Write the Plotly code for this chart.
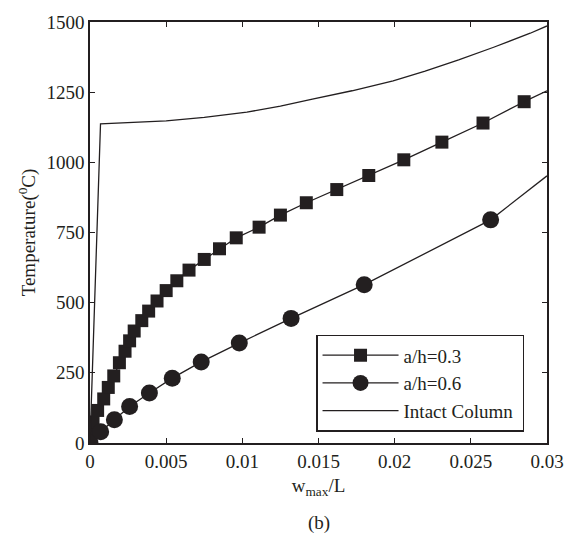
import plotly.graph_objects as go

# a/h = 0.3 (squares)
w_sq = [0, 0.00005, 0.0002, 0.0005, 0.0009, 0.0012, 0.00156, 0.00193, 0.0023, 0.0026,
        0.0029, 0.0034, 0.00385, 0.0044, 0.0050, 0.0057, 0.0065, 0.0075, 0.0085, 0.0096,
        0.0111, 0.0125, 0.0142, 0.0162, 0.0183, 0.0206, 0.0231, 0.0258, 0.0285]
T_sq = [0, 35, 75, 116, 157, 198, 239, 286, 327, 364,
        399, 436, 470, 506, 543, 578, 616, 654, 692, 731,
        769, 812, 856, 903, 953, 1009, 1072, 1140, 1216]
w_sq_tail = [0.0285, 0.030]
T_sq_tail = [1216, 1255]

# a/h = 0.6 (circles)
w_ci = [0, 0.0007, 0.0016, 0.0026, 0.0039, 0.0054, 0.0073, 0.0098, 0.0132, 0.0180, 0.0263]
T_ci = [0, 40, 83, 130, 178, 231, 289, 356, 444, 564, 795]
w_ci_tail = [0.0263, 0.030]
T_ci_tail = [795, 952]

# Intact column
w_in = [0, 0.00069, 0.005, 0.0075, 0.0103, 0.0125, 0.0146, 0.0172, 0.0199,
        0.0220, 0.0242, 0.0265, 0.0289, 0.030]
T_in = [0, 1137, 1148, 1160, 1179, 1200, 1225, 1255, 1290,
        1325, 1365, 1410, 1460, 1486]

x_ticks = [0, 0.005, 0.01, 0.015, 0.02, 0.025, 0.03]
x_labels = ["0", "0.005", "0.01", "0.015", "0.02", "0.025", "0.03"]
y_ticks = [0, 250, 500, 750, 1000, 1250, 1500]

INK = "#231f20"
FONT = "Liberation Serif, Times New Roman, serif"
PAD = "\u00a0"

fig = go.Figure()
fig.add_trace(go.Scatter(x=w_sq, y=T_sq, mode="lines+markers", name="a/h=0.3" + PAD,
                         line=dict(color=INK, width=1.3),
                         marker=dict(symbol="square", size=13, color=INK)))
fig.add_trace(go.Scatter(x=w_sq_tail, y=T_sq_tail, mode="lines", showlegend=False,
                         line=dict(color=INK, width=1.3)))
fig.add_trace(go.Scatter(x=w_ci, y=T_ci, mode="lines+markers", name="a/h=0.6" + PAD,
                         line=dict(color=INK, width=1.3),
                         marker=dict(symbol="circle", size=17, color=INK)))
fig.add_trace(go.Scatter(x=w_ci_tail, y=T_ci_tail, mode="lines", showlegend=False,
                         line=dict(color=INK, width=1.3)))
fig.add_trace(go.Scatter(x=w_in, y=T_in, mode="lines", name="Intact Column" + PAD,
                         line=dict(color=INK, width=1.3)))

axis_common = dict(showline=True, linecolor=INK, linewidth=1.5, mirror="ticks",
                   ticks="inside", ticklen=5, tickcolor=INK, tickwidth=1.2,
                   showgrid=False, zeroline=False,
                   tickfont=dict(family=FONT, size=19, color=INK))

fig.update_layout(
    width=576, height=548,
    margin=dict(l=90, r=19, t=16, b=105),
    paper_bgcolor="white", plot_bgcolor="white",
    font=dict(family=FONT, size=19, color=INK),
    xaxis=dict(range=[0, 0.03], tickvals=x_ticks, ticktext=x_labels,
               title=dict(text="w<sub>max</sub>/L", font=dict(family=FONT, size=19), standoff=8),
               **axis_common),
    yaxis=dict(range=[0, 1500], tickvals=y_ticks,
               title=dict(text="Temperature(<sup>0</sup>C)", font=dict(family=FONT, size=19), standoff=6),
               **axis_common),
    legend=dict(x=0.4946, y=0.0265, xanchor="left", yanchor="bottom",
                bordercolor=INK, borderwidth=1.5, bgcolor="white", itemwidth=76,
                font=dict(family=FONT, size=19, color=INK), tracegroupgap=0),
    showlegend=True,
    annotations=[dict(text="(b)", xref="paper", yref="paper", x=0.5, y=-0.19,
                      xanchor="center", yanchor="middle", showarrow=False,
                      font=dict(family=FONT, size=19, color=INK))],
)

fig.write_html("out.html")
